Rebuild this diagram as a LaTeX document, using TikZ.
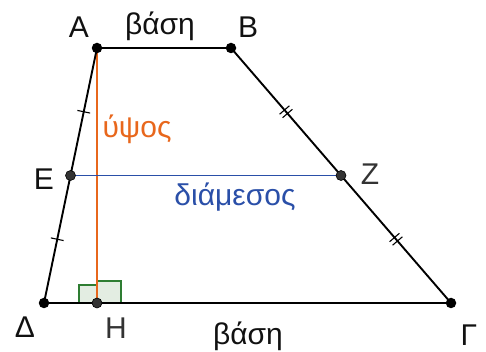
\documentclass[tikz,border=0pt]{standalone}
\usepackage{fontspec}
\setmainfont{Liberation Sans}
\usetikzlibrary{calc}
\definecolor{lbl}{HTML}{111111}
\definecolor{glbl}{HTML}{333333}
\definecolor{hcol}{HTML}{E8671C}
\definecolor{mcol}{HTML}{2A4FA8}
\definecolor{rgreen}{HTML}{2E7D32}
\definecolor{rfill}{HTML}{E3EDE2}
\tikzset{
  side/.style={line width=1.9pt, black},
  pt/.style={circle, fill=black, inner sep=0pt, minimum size=10.5pt},
  gpt/.style={circle, draw=black, fill=glbl, line width=0.6pt, inner sep=0pt, minimum size=10pt},
  lab/.style={text=lbl, font=\fontsize{30}{34}\selectfont, inner sep=0pt, anchor=base},
  tickline/.style={line width=1.1pt, black},
}
\begin{document}
\begin{tikzpicture}[x=1pt,y=1pt]
\useasboundingbox (0,0) rectangle (486,352);
\coordinate (A) at (97,304);
\coordinate (B) at (231,304);
\coordinate (G) at (451,49);
\coordinate (D) at (44,49);
\coordinate (E) at ($(A)!0.5!(D)$);
\coordinate (Z) at ($(B)!0.5!(G)$);
\coordinate (H) at (97,49);
% right angle mark
\draw[rgreen, fill=rfill, line width=1.1pt] (79,49) rectangle (97,67);
\draw[rgreen, fill=rfill, line width=1.1pt] (97,49) rectangle (121,71);
% height and median
\draw[hcol, line width=1.5pt] (A) -- (H);
\draw[mcol, line width=1.5pt] (E) -- (Z);
% sides
\draw[side] (A) -- (B) -- (G) -- (D) -- cycle;
% ticks on A-Delta
\foreach \p in {0.25,0.75}{
  \coordinate (t) at ($(A)!\p!(D)$);
  \draw[tickline] ($(t)!6.5pt!90:(D)$) -- ($(t)!6.5pt!-90:(D)$);
}
% double ticks on B-Gamma
\foreach \p in {0.25,0.75}{
  \coordinate (t) at ($(B)!\p!(G)$);
  \coordinate (ta) at ($(t)!2.3pt!(G)$);
  \coordinate (tb) at ($(t)!-2.3pt!(G)$);
  \draw[tickline] ($(ta)!6.5pt!90:(G)$) -- ($(ta)!6.5pt!-90:(G)$);
  \draw[tickline] ($(tb)!6.5pt!90:(G)$) -- ($(tb)!6.5pt!-90:(G)$);
}
% points
\node[pt] (nA) at (A) {};
\node[pt] (nB) at (B) {};
\node[pt] (nG) at (G) {};
\node[pt] (nD) at (D) {};
\node[gpt] (nE) at (E) {};
\node[gpt] (nZ) at (Z) {};
\node[gpt] (nH) at (H) {};
% labels
\node[lab] (lA) at (79,314) {Α};
\node[lab] (lB) at (248,314) {Β};
\node[lab] (lE) at (44,162) {Ε};
\node[lab, text=glbl] (lZ) at (370,167) {Ζ};
\node[lab] (lD) at (25,14) {Δ};
\node[lab, text=glbl] (lH) at (116,13) {Η};
\node[lab] (lG) at (469,6) {Γ};
\node[lab] (b1) at (160,317) {βάση};
\node[lab] (b2) at (248,7) {βάση};
\node[lab, text=hcol] (u) at (137,214) {ύψος};
\node[lab, text=mcol] (m) at (235,146) {διάμεσος};
\end{tikzpicture}
\end{document}
